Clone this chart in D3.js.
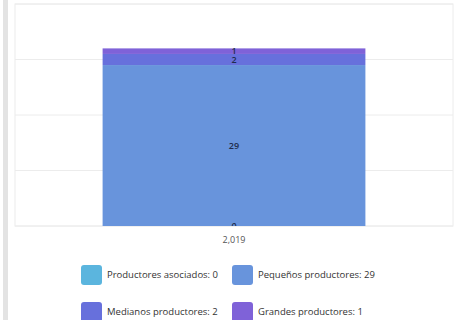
<!DOCTYPE html>
<html><head><meta charset="utf-8">
<script src="https://cdn.jsdelivr.net/npm/d3@7"></script>
<style>
html,body{margin:0;padding:0;background:#fff;}
svg{display:block;font-family:"Open Sans",sans-serif;}
</style></head>
<body>
<svg id="c" width="459" height="320"></svg>
<script>
const categories = ["2,019"];
const seriesNames = ["Productores asociados", "Pequeños productores", "Medianos productores", "Grandes productores"];
const seriesValues = [[0], [29], [2], [1]];
const seriesColors = ["#5bb5de", "#6894dc", "#6770dc", "#7f62d8"];
const yTicks = [0, 10, 20, 30, 40];

const svg = d3.select("#c");
const m = {l: 15, r: 6, t: 4, b: 94};
const W = 459, H = 320;
const pw = W - m.l - m.r, ph = H - m.t - m.b;

svg.append("rect").attr("x", 3).attr("y", 0).attr("width", 5).attr("height", H).attr("fill", "#e3e3e3");

const x = d3.scaleBand().domain(categories).range([m.l, m.l + pw]).paddingInner(0.4).paddingOuter(0.2);
const y = d3.scaleLinear().domain([0, 40]).range([m.t + ph, m.t]);

const g = svg.append("g");
g.append("rect").attr("x", m.l).attr("y", m.t).attr("width", pw).attr("height", ph)
  .attr("fill", "none").attr("stroke", "#ececec");
g.selectAll("line.grid").data(yTicks).join("line").attr("class", "grid")
  .attr("x1", m.l).attr("x2", m.l + pw).attr("y1", d => y(d)).attr("y2", d => y(d))
  .attr("stroke", "#ececec");

const rows = categories.map((c, i) => {
  const o = {cat: c};
  seriesNames.forEach((s, j) => o[s] = seriesValues[j][i]);
  return o;
});
const stack = d3.stack().keys(seriesNames)(rows);

svg.append("clipPath").attr("id", "clip").append("rect")
  .attr("x", m.l).attr("y", m.t).attr("width", pw).attr("height", ph);

const bars = svg.append("g");
stack.forEach((layer, j) => {
  bars.selectAll(null).data(layer).join("rect")
    .attr("x", d => x(d.data.cat)).attr("width", x.bandwidth())
    .attr("y", d => y(d[1])).attr("height", d => y(d[0]) - y(d[1]))
    .attr("fill", seriesColors[j]);
});
const labels = svg.append("g").attr("clip-path", "url(#clip)");
stack.forEach((layer, j) => {
  labels.selectAll(null).data(layer).join("text")
    .attr("x", d => x(d.data.cat) + x.bandwidth() / 2)
    .attr("y", d => (y(d[0]) + y(d[1])) / 2)
    .attr("dy", "0.35em").attr("text-anchor", "middle")
    .attr("font-size", 9).attr("font-weight", 600).attr("fill", "#1f2d4d")
    .text(d => d[1] - d[0]);
});

const xa = svg.append("g").attr("transform", `translate(0,${m.t + ph})`)
  .call(d3.axisBottom(x).tickSize(0).tickPadding(11));
xa.select(".domain").remove();
xa.selectAll("text").attr("font-size", 9).attr("fill", "#555").attr("font-family", "Open Sans, sans-serif");

const legX = [81, 232], legY = [265, 302];
const leg = svg.append("g");
seriesNames.forEach((s, i) => {
  const lx = legX[i % 2], ly = legY[Math.floor(i / 2)];
  leg.append("rect").attr("x", lx).attr("y", ly).attr("width", 21).attr("height", 20)
    .attr("rx", 3).attr("fill", seriesColors[i]);
  leg.append("text").attr("x", lx + 26).attr("y", ly + 10).attr("dy", "0.35em")
    .attr("font-size", 9.5).attr("fill", "#333").text(`${s}: ${seriesValues[i][0]}`);
});
</script>
</body></html>
